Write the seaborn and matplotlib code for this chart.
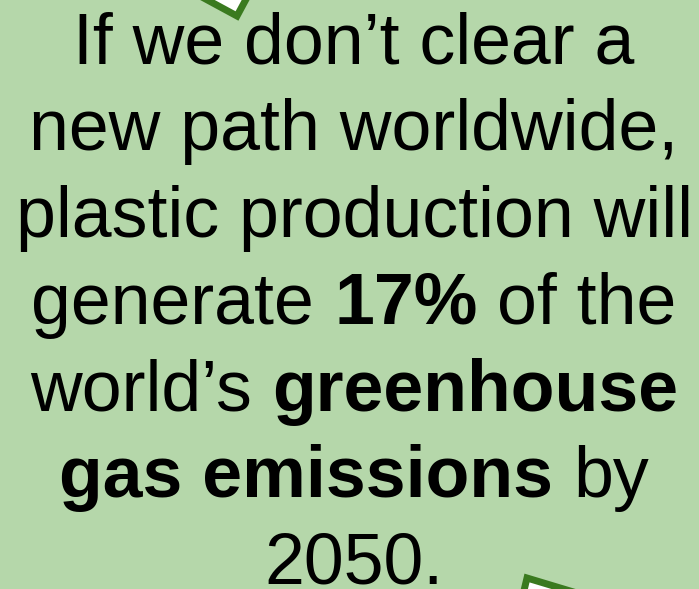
import matplotlib
matplotlib.use("Agg")
import matplotlib.pyplot as plt
import seaborn as sns
from matplotlib.patches import Polygon

# -----------------------------
# Text content: each line is a list of (words, bold) pieces
# -----------------------------
line_1 = [("If we don’t clear a", False)]
line_2 = [("new path worldwide,", False)]
line_3 = [("plastic production will", False)]
line_4 = [("generate", False), ("17%", True), ("of the", False)]
line_5 = [("world’s", False), ("greenhouse", True)]
line_6 = [("gas emissions", True), ("by", False)]
line_7 = [("2050.", False)]
lines = [line_1, line_2, line_3, line_4, line_5, line_6, line_7]

bg_color = "#b5d7aa"
arrow_color = "#3a7a1f"
font_size = 51.6

# -----------------------------
# Figure setup
# -----------------------------
sns.set_theme(style="white")
plt.rcParams["font.family"] = ["Liberation Sans", "DejaVu Sans"]

fig = plt.figure(figsize=(6.99, 5.89), dpi=100)
fig.patch.set_facecolor(bg_color)
ax = fig.add_axes([0, 0, 1, 1])
ax.set_facecolor(bg_color)
ax.set_xlim(0, 699)
ax.set_ylim(589, 0)
ax.axis("off")

# decorative arrow outlines cut off by the edges
top_arrow = Polygon([(189, -10), (237, 16), (251, -10)], closed=True,
                    facecolor="white", edgecolor=arrow_color, linewidth=5,
                    joinstyle="miter", clip_on=True)
bottom_arrow = Polygon([(527, 578), (610, 603), (521, 603)], closed=True,
                       facecolor="white", edgecolor=arrow_color, linewidth=5,
                       joinstyle="miter", clip_on=True)
ax.add_patch(top_arrow)
ax.add_patch(bottom_arrow)

# -----------------------------
# Text, centred line by line
# -----------------------------
renderer = fig.canvas.get_renderer()


def text_width(s, bold):
    t = ax.text(0, 0, s, fontsize=font_size,
                fontweight="bold" if bold else "normal")
    w = t.get_window_extent(renderer).width
    t.remove()
    return w


space_w = text_width("a a", False) - text_width("aa", False)

center_x = 354
first_baseline = 63.5
line_step = 86.75

for i, pieces in enumerate(lines):
    widths = [text_width(s, b) for s, b in pieces]
    total = sum(widths) + space_w * (len(pieces) - 1)
    x = center_x - total / 2
    y = first_baseline + i * line_step
    for (s, b), w in zip(pieces, widths):
        ax.text(x, y, s, fontsize=font_size, ha="left", va="baseline",
                fontweight="bold" if b else "normal", color="black")
        x += w + space_w

fig.savefig("out.png", dpi=100, facecolor=bg_color)
